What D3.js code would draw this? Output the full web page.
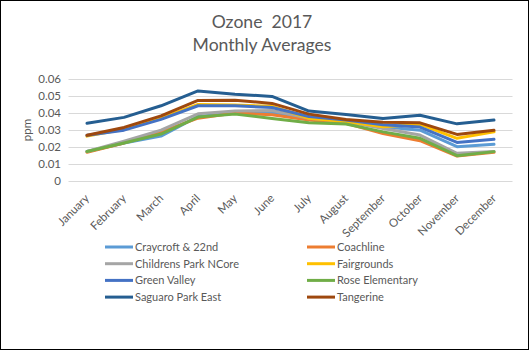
<!DOCTYPE html>
<html>
<head>
<meta charset="utf-8">
<script src="https://cdn.jsdelivr.net/npm/d3@7"></script>
<style>
  body { margin: 0; background: #fff; }
  text { font-family: Lato, "Open Sans", sans-serif; fill: #595959; }
</style>
</head>
<body>
<div id="chart"></div>
<script>
const months = ["January", "February", "March", "April", "May", "June", "July",
    "August", "September", "October", "November", "December"];

const stations = ["Craycroft & 22nd", "Coachline", "Childrens Park NCore", "Fairgrounds",
    "Green Valley", "Rose Elementary", "Saguaro Park East", "Tangerine"];

const stationColors = ["#5B9BD5", "#ED7D31", "#A5A5A5", "#FFC000",
    "#4472C4", "#70AD47", "#255E91", "#9E480E"];

const craycroft = [0.0175, 0.0225, 0.0265, 0.038, 0.040, 0.0405, 0.037, 0.035, 0.032, 0.030, 0.0203, 0.0217];
const coachline = [0.017, 0.0225, 0.029, 0.037, 0.040, 0.039, 0.036, 0.034, 0.028, 0.0238, 0.0148, 0.017];
const childrens = [0.0175, 0.0235, 0.030, 0.0396, 0.0412, 0.0415, 0.037, 0.035, 0.031, 0.0271, 0.0164, 0.0175];
const fairgrounds = [0.0265, 0.0305, 0.037, 0.0451, 0.0447, 0.044, 0.037, 0.035, 0.032, 0.0334, 0.0252, 0.029];
const greenValley = [0.027, 0.030, 0.0363, 0.0443, 0.0443, 0.0433, 0.038, 0.036, 0.0332, 0.0318, 0.0228, 0.0246];
const rose = [0.0175, 0.0225, 0.0277, 0.0377, 0.0394, 0.0369, 0.0343, 0.0336, 0.029, 0.0252, 0.015, 0.0174];
const saguaro = [0.034, 0.0375, 0.0443, 0.053, 0.0511, 0.0498, 0.0412, 0.0392, 0.0369, 0.0387, 0.0337, 0.0359];
const tangerine = [0.027, 0.0316, 0.0384, 0.0474, 0.0476, 0.0457, 0.0394, 0.0363, 0.0347, 0.0343, 0.0275, 0.0299];

const seriesValues = [craycroft, coachline, childrens, fairgrounds, greenValley, rose, saguaro, tangerine];
const yTicks = [0, 0.01, 0.02, 0.03, 0.04, 0.05, 0.06];

const width = 529;
const height = 350;

const svg = d3.select("#chart")
    .append("svg")
    .attr("width", width)
    .attr("height", height);

// chart border
svg.append("rect")
    .attr("x", 0.5).attr("y", 0.5)
    .attr("width", width - 1).attr("height", height - 1)
    .attr("fill", "#fff")
    .attr("stroke", "#000")
    .attr("stroke-width", 1);

// title
svg.append("text")
    .attr("x", 262).attr("y", 28)
    .attr("text-anchor", "middle")
    .style("font-size", "17.6px")
    .style("white-space", "pre")
    .text("Ozone  2017");
svg.append("text")
    .attr("x", 262).attr("y", 51)
    .attr("text-anchor", "middle")
    .style("font-size", "17.6px")
    .text("Monthly Averages");

const x = d3.scaleBand()
    .domain(months)
    .range([68.5, 512.5]);

const y = d3.scaleLinear()
    .domain([0, 0.06])
    .range([181.3, 79]);

// gridlines
svg.append("g")
    .selectAll("line")
    .data(yTicks)
    .enter().append("line")
    .attr("x1", 68.5).attr("x2", 512.5)
    .attr("y1", d => Math.round(y(d)) + 0.5)
    .attr("y2", d => Math.round(y(d)) + 0.5)
    .attr("stroke", "#d9d9d9")
    .attr("stroke-width", 1);

// y tick labels
svg.append("g")
    .selectAll("text")
    .data(yTicks)
    .enter().append("text")
    .attr("x", 61)
    .attr("y", d => y(d) + 4)
    .attr("text-anchor", "end")
    .style("font-size", "11.5px")
    .text(d => d === 0 ? "0" : d3.format(".2f")(d));

svg.append("text")
    .attr("transform", "translate(31,130) rotate(-90)")
    .attr("text-anchor", "middle")
    .style("font-size", "11.5px")
    .text("ppm");

// x tick labels
svg.append("g")
    .selectAll("text")
    .data(months)
    .enter().append("text")
    .attr("transform", d => `translate(${x(d) + x.bandwidth() / 2 + 3}, 199) rotate(-45)`)
    .attr("text-anchor", "end")
    .style("font-size", "11.5px")
    .text(d => d);

const line = d3.line()
    .x((d, i) => x(months[i]) + x.bandwidth() / 2)
    .y(d => y(d));

svg.append("g")
    .selectAll("path")
    .data(seriesValues)
    .enter().append("path")
    .attr("d", line)
    .attr("fill", "none")
    .attr("stroke", (d, i) => stationColors[i])
    .attr("stroke-width", 3)
    .attr("stroke-linejoin", "round")
    .attr("stroke-linecap", "round");

// legend
const legend = svg.append("g")
    .selectAll("g")
    .data(stations)
    .enter().append("g")
    .attr("transform", (d, i) => `translate(${i % 2 === 0 ? 105 : 307}, ${247 + Math.floor(i / 2) * 16.7})`);

legend.append("line")
    .attr("x1", 0).attr("x2", 28)
    .attr("stroke", (d, i) => stationColors[i])
    .attr("stroke-width", 3);

legend.append("text")
    .attr("x", 30)
    .attr("y", 4)
    .style("font-size", "11px")
    .text(d => d);
</script>
</body>
</html>
